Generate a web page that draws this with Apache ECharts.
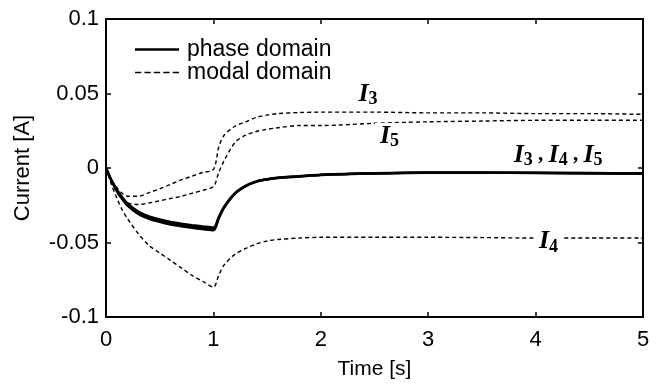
<!DOCTYPE html>
<html>
<head>
<meta charset="utf-8">
<script src="https://cdn.jsdelivr.net/npm/echarts@6/dist/echarts.min.js"></script>
<style>html,body{margin:0;padding:0;background:#fff;}#c{width:662px;height:385px;}</style>
</head>
<body>
<div id="c"></div>
<script>
// Data
var time = [0, 0.05, 0.1, 0.15, 0.2, 0.3, 0.4, 0.5, 0.6, 0.7, 0.8, 0.9, 1.0, 1.05, 1.1, 1.2, 1.3, 1.4, 1.5, 1.6, 1.8, 2.0, 2.5, 3.0, 3.5, 4.0, 4.5, 5.0];
var phaseI3 = [0, -0.008, -0.0143, -0.0195, -0.0238, -0.0292, -0.0325, -0.0345, -0.0362, -0.0373, -0.0383, -0.0392, -0.0400, -0.033, -0.026, -0.017, -0.012, -0.009, -0.0075, -0.0065, -0.0055, -0.0045, -0.0035, -0.003, -0.003, -0.0032, -0.0034, -0.0036];
var phaseI5 = [0, -0.0083, -0.0148, -0.0202, -0.0245, -0.0300, -0.0333, -0.0353, -0.0371, -0.0382, -0.0392, -0.0401, -0.0409, -0.0334, -0.0263, -0.0171, -0.0121, -0.0091, -0.0076, -0.0066, -0.0056, -0.0046, -0.0036, -0.0031, -0.0031, -0.0033, -0.0035, -0.0037];
var phaseI4 = [0, -0.0086, -0.0153, -0.0209, -0.0252, -0.0308, -0.0341, -0.0362, -0.0380, -0.0391, -0.0401, -0.0410, -0.0418, -0.0338, -0.0266, -0.0173, -0.0122, -0.0092, -0.0077, -0.0067, -0.0057, -0.0047, -0.0037, -0.0032, -0.0032, -0.0034, -0.0036, -0.0038];
var modalI3 = [0, -0.008, -0.013, -0.017, -0.019, -0.019, -0.0165, -0.014, -0.011, -0.008, -0.0055, -0.003, -0.001, 0.014, 0.022, 0.028, 0.031, 0.034, 0.0355, 0.0365, 0.0372, 0.0375, 0.0375, 0.037, 0.037, 0.0365, 0.0365, 0.036];
var modalI5 = [0, -0.009, -0.016, -0.021, -0.0235, -0.0245, -0.0235, -0.022, -0.0205, -0.019, -0.017, -0.015, -0.0125, -0.003, 0.005, 0.017, 0.022, 0.0245, 0.026, 0.027, 0.0285, 0.0285, 0.030, 0.031, 0.0315, 0.032, 0.032, 0.032];
var modalI4 = [0, -0.011, -0.020, -0.028, -0.034, -0.044, -0.052, -0.057, -0.062, -0.067, -0.072, -0.076, -0.080, -0.072, -0.065, -0.058, -0.054, -0.051, -0.049, -0.048, -0.047, -0.0465, -0.0465, -0.0465, -0.0467, -0.047, -0.047, -0.047];
var xTicks = [0, 1, 2, 3, 4, 5];
var yTicks = [-0.1, -0.05, 0, 0.05, 0.1];
var legendNames = ['phase domain', 'modal domain'];
var labelTexts = {
  top3: '{i|I}{s|3}',
  mid5: '{i|I}{s|5}',
  all: '{i|I}{s|3}{c| , }{i|I}{s|4}{c| , }{i|I}{s|5}',
  low4: '{i|I}{s|4}'
};
var labelAnchors = {top3: [2.44, 0.0495], mid5: [2.64, 0.0215], all: [4.21, 0.0088], low4: [4.12, -0.0495]};

function pairs(vals) { return time.map(function (t, i) { return [t, vals[i]]; }); }

var rich = {
  i: {fontFamily: 'Liberation Serif', fontStyle: 'italic', fontWeight: 'bold', fontSize: 26, color: '#000', lineHeight: 26},
  s: {fontFamily: 'Liberation Serif', fontWeight: 'bold', fontSize: 18, color: '#000', padding: [11, 0, 0, 0], lineHeight: 26},
  c: {fontFamily: 'Liberation Serif', fontWeight: 'bold', fontSize: 21, color: '#000', lineHeight: 26}
};

function mp(key, bg) {
  return {
    coord: labelAnchors[key],
    symbol: 'rect', symbolSize: 0,
    label: {show: true, position: 'inside', formatter: labelTexts[key], rich: rich,
      backgroundColor: bg ? '#fff' : 'transparent', padding: bg ? [0, 5] : 0}
  };
}

var solidStyle = {color: '#000', width: 2.4, type: 'solid'};
var dashStyle = {color: '#000', width: 1.4, type: [4, 3]};

var series = [
  {name: legendNames[0], type: 'line', data: pairs(phaseI3), symbol: 'none', lineStyle: solidStyle, itemStyle: {color: '#000'}, smooth: 0.3},
  {name: legendNames[0], type: 'line', data: pairs(phaseI5), symbol: 'none', lineStyle: solidStyle, itemStyle: {color: '#000'}, smooth: 0.3},
  {name: legendNames[0], type: 'line', data: pairs(phaseI4), symbol: 'none', lineStyle: solidStyle, itemStyle: {color: '#000'}, smooth: 0.3,
    markPoint: {silent: true, data: [mp('all', false)]}},
  {name: legendNames[1], type: 'line', data: pairs(modalI3), symbol: 'none', lineStyle: dashStyle, itemStyle: {color: '#000'}, smooth: 0.3,
    markPoint: {silent: true, data: [mp('top3', false)]}},
  {name: legendNames[1], type: 'line', data: pairs(modalI5), symbol: 'none', lineStyle: dashStyle, itemStyle: {color: '#000'}, smooth: 0.3,
    markPoint: {silent: true, data: [mp('mid5', true)]}, z: 3},
  {name: legendNames[1], type: 'line', data: pairs(modalI4), symbol: 'none', lineStyle: dashStyle, itemStyle: {color: '#000'}, smooth: 0.3,
    markPoint: {silent: true, data: [mp('low4', true)]}}
];

var solidIcon = 'path://M0,0h44v2.4h-44z';
var dashIcon = 'path://M0,0h6v1.6h-6z M9,0h6v1.6h-6z M18,0h6v1.6h-6z M27,0h6v1.6h-6z M36,0h6v1.6h-6z';

var axisFont = {fontFamily: 'Liberation Sans', fontSize: 22, color: '#000'};
var lineAx = {show: true, onZero: false, lineStyle: {color: '#000', width: 2}};
var tickAx = {show: true, inside: true, length: 5, lineStyle: {color: '#000', width: 1.5}};

var option = {
  animation: false,
  backgroundColor: '#fff',
  grid: {left: 106, right: 19, top: 19, bottom: 67},
  legend: {
    data: [{name: legendNames[0], icon: solidIcon}, {name: legendNames[1], icon: dashIcon}],
    orient: 'vertical', left: 130, top: 33, itemWidth: 44, itemHeight: 14, itemGap: 0, symbolKeepAspect: true,
    textStyle: {fontFamily: 'Liberation Sans', fontSize: 23, color: '#000', lineHeight: 20, padding: [0, 0, 0, 3]}
  },
  xAxis: [
    {type: 'value', min: xTicks[0], max: xTicks[xTicks.length - 1], interval: 1, position: 'bottom',
      name: 'Time [s]', nameLocation: 'middle', nameGap: 42, nameTextStyle: {fontFamily: 'Liberation Sans', fontSize: 21, color: '#000'},
      axisLine: lineAx, axisTick: tickAx, axisLabel: Object.assign({margin: 12}, axisFont), splitLine: {show: false}},
    {type: 'value', min: xTicks[0], max: xTicks[xTicks.length - 1], interval: 1, position: 'top',
      axisLine: lineAx, axisTick: tickAx, axisLabel: {show: false}, splitLine: {show: false}}
  ],
  yAxis: [
    {type: 'value', min: yTicks[0], max: yTicks[yTicks.length - 1], interval: 0.05, position: 'left',
      name: 'Current [A]', nameLocation: 'middle', nameGap: 72, nameRotate: 90, nameTextStyle: {fontFamily: 'Liberation Sans', fontSize: 22, color: '#000'},
      axisLine: lineAx, axisTick: tickAx, axisLabel: Object.assign({margin: 7}, axisFont), splitLine: {show: false}},
    {type: 'value', min: yTicks[0], max: yTicks[yTicks.length - 1], interval: 0.05, position: 'right',
      axisLine: lineAx, axisTick: tickAx, axisLabel: {show: false}, splitLine: {show: false}}
  ],
  series: series
};

var chart = echarts.init(document.getElementById('c'), null, {renderer: 'canvas'});
chart.setOption(option);
</script>
</body>
</html>
